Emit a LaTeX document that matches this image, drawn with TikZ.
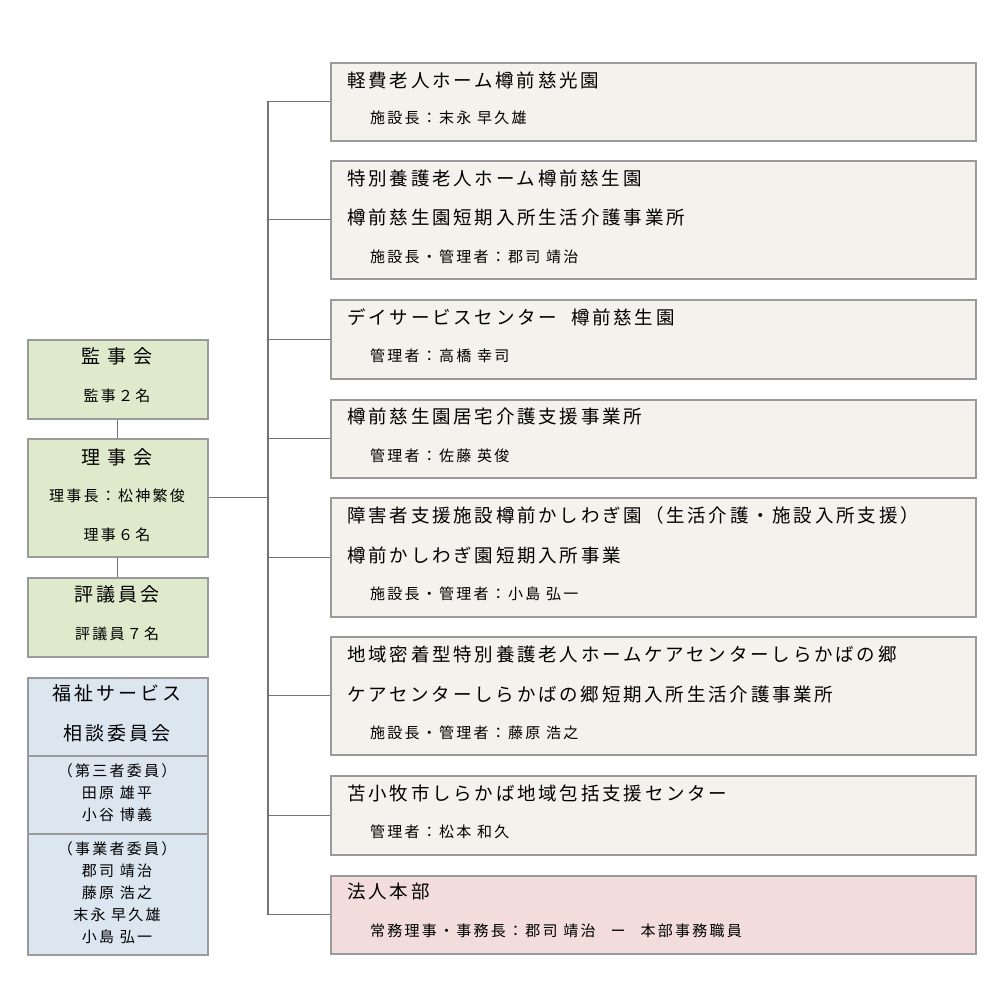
\documentclass[tikz,border=0pt]{standalone}
\usepackage{fontspec}
\setmainfont{Noto Sans CJK JP}
\newfontfamily\spc[LetterSpace=15]{Noto Sans CJK JP}
\definecolor{gfill}{HTML}{F3F2EC}
\definecolor{grfill}{HTML}{DFE9CB}
\definecolor{bfill}{HTML}{DCE6F1}
\definecolor{pfill}{HTML}{F2DCDC}
\definecolor{bord}{HTML}{9A9A9A}
\begin{document}
\begin{tikzpicture}[x=1pt,y=-1pt,
 box/.style={draw=bord,line width=1.5pt,anchor=north west,inner sep=0pt},
 rbox/.style={box,fill=gfill,minimum width=645pt},
 grn/.style={box,fill=grfill,minimum width=180pt},
 blu/.style={box,fill=bfill,minimum width=180pt},
 pnk/.style={box,fill=pfill,minimum width=645pt},
 big/.style={font=\spc\fontsize{18.5}{20}\selectfont,anchor=west,inner sep=0pt},
 sml/.style={font=\spc\fontsize{15}{17}\selectfont,anchor=west,inner sep=0pt},
 cbig/.style={font=\spc\fontsize{19}{21}\selectfont,inner sep=0pt},
 csml/.style={font=\spc\fontsize{15}{17}\selectfont,inner sep=0pt},
 ln/.style={draw=black!55,line width=1.2pt}]
\useasboundingbox (0,0) rectangle (1000,997);
% right boxes
\node[rbox,minimum height=78pt] (b1) at (330,62) {};
\node[rbox,minimum height=118pt] (b2) at (330,160) {};
\node[rbox,minimum height=79pt] (b3) at (330,299) {};
\node[rbox,minimum height=78pt] (b4) at (330,399) {};
\node[rbox,minimum height=119pt] (b5) at (330,497) {};
\node[rbox,minimum height=118pt] (b6) at (330,636) {};
\node[rbox,minimum height=79pt] (b7) at (330,775) {};
\node[pnk,minimum height=78pt] (b8) at (330,875) {};
\node[big] (t1) at (347,80) {軽費老人ホーム樽前慈光園};
\node[sml] (s1) at (370,118) {施設長：末永 早久雄};
\node[big] (t2) at (347,178) {特別養護老人ホーム樽前慈生園};
\node[big] (t2b) at (347,217) {樽前慈生園短期入所生活介護事業所};
\node[sml] (s2) at (370,257) {施設長・管理者：郡司 靖治};
\node[big] (t3) at (347,317) {デイサービスセンター\ \ 樽前慈生園};
\node[sml] (s3) at (370,356) {管理者：高橋 幸司};
\node[big] (t4) at (347,416) {樽前慈生園居宅介護支援事業所};
\node[sml] (s4) at (370,456) {管理者：佐藤 英俊};
\node[big] (t5) at (347,515) {障害者支援施設樽前かしわぎ園（生活介護・施設入所支援）};
\node[big] (t5b) at (347,555) {樽前かしわぎ園短期入所事業};
\node[sml] (s5) at (370,594) {施設長・管理者：小島 弘一};
\node[big] (t6) at (347,654) {地域密着型特別養護老人ホームケアセンターしらかばの郷};
\node[big] (t6b) at (347,694) {ケアセンターしらかばの郷短期入所生活介護事業所};
\node[sml] (s6) at (370,733) {施設長・管理者：藤原 浩之};
\node[big] (t7) at (347,793) {苫小牧市しらかば地域包括支援センター};
\node[sml] (s7) at (370,832) {管理者：松本 和久};
\node[big] (t8) at (347,891) {法人本部};
\node[sml] (s8) at (370,931) {常務理事・事務長：郡司 靖治\quad ー\quad 本部事務職員};
% left boxes
\node[grn,minimum height=79pt] (k) at (27,339) {};
\node[grn,minimum height=118pt] (r) at (27,438) {};
\node[grn,minimum height=79pt] (h) at (27,577) {};
\node[blu,minimum height=78pt] (f1) at (27,677) {};
\node[blu,minimum height=78pt] (f2) at (27,755) {};
\node[blu,minimum height=121pt] (f3) at (27,833) {};
\node[cbig] at (117,356) {監 事 会};
\node[csml] at (117,396) {監事２名};
\node[cbig] at (117,457) {理 事 会};
\node[csml] at (117,496) {理事長：松神繁俊};
\node[csml] at (117,535) {理事６名};
\node[cbig] at (117,594) {評議員会};
\node[csml] at (117,634) {評議員７名};
\node[cbig] at (117,693) {福祉サービス};
\node[cbig] at (117,733) {相談委員会};
\node[csml] at (117,771) {（第三者委員）};
\node[csml] at (117,793) {田原 雄平};
\node[csml] at (117,815) {小谷 博義};
\node[csml] at (117,849) {（事業者委員）};
\node[csml] at (117,871) {郡司 靖治};
\node[csml] at (117,893) {藤原 浩之};
\node[csml] at (117,915) {末永 早久雄};
\node[csml] at (117,937) {小島 弘一};
% connectors
\coordinate (top) at (268,101);
\coordinate (bot) at (268,913);
\draw[ln] (top) -- (bot);
\foreach \b in {b1,b2,b3,b4,b5,b6,b7,b8} \draw[ln] (\b.west) -| (top);
\draw[ln] (r.east) -- (268,0 |- r.east);
\draw[ln] (k.south) -- (r.north);
\draw[ln] (r.south) -- (h.north);
\end{tikzpicture}
\end{document}
